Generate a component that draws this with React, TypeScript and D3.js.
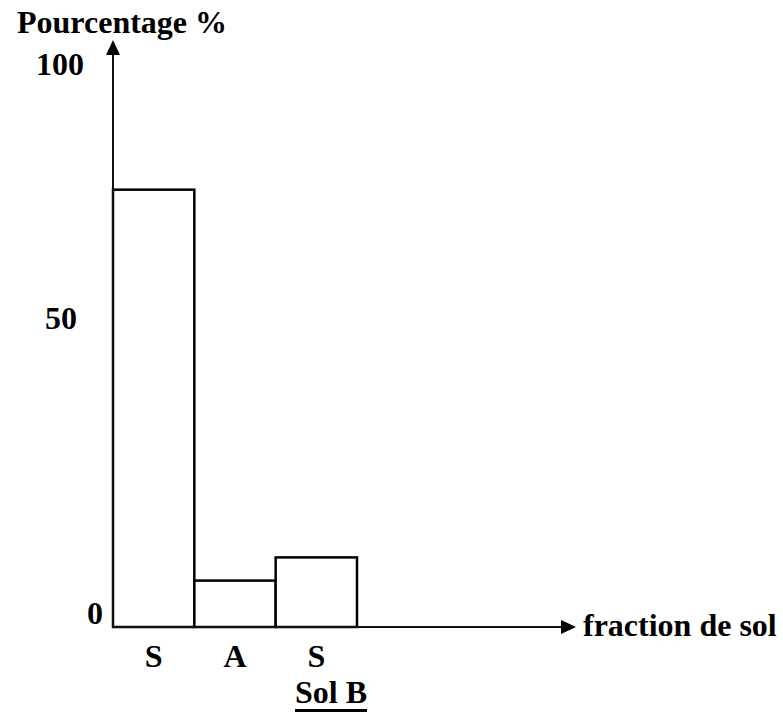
import React from "react";
import * as d3 from "d3";

const categories = ["S", "A", "S"];
const values = [75.4, 8, 12];
const tickValues = [0, 50, 100];
const yTitle = "Pourcentage %";
const xTitle = "fraction de sol";
const caption = "Sol B";

const W = 783;
const H = 716;
const FONT = "'Liberation Serif', 'Times New Roman', serif";

export default function App() {
  const y = d3.scaleLinear().domain([0, 100]).range([627, 47]);
  const x = d3
    .scaleBand<string>()
    .domain(categories.map((_, i) => String(i)))
    .range([113, 357])
    .padding(0);
  // tick label placement (hand-drawn original, irregular)
  const labelY = d3.scaleLinear().domain([0, 50, 100]).range([624, 329, 75]);
  const labelX = d3.scaleLinear().domain([0, 50, 100]).range([95, 61, 60]);

  const x0 = x.range()[0];
  const yBase = y(0);
  const yTop = 40;
  const xEnd = 576;
  const txt = { fontFamily: FONT, fontWeight: 700 as const };

  return (
    <svg
      width={W}
      height={H}
      style={{ position: "absolute", left: 0, top: 0, background: "#fff" }}
    >
      {/* bars */}
      {values.map((v, i) => (
        <rect
          key={i}
          x={x(String(i))}
          y={y(v)}
          width={x.bandwidth()}
          height={yBase - y(v)}
          fill="#fff"
          stroke="#000"
          strokeWidth={2.5}
        />
      ))}
      {/* y axis */}
      <line x1={x0} y1={yBase} x2={x0} y2={yTop + 12} stroke="#111" strokeWidth={2} />
      <path d={`M${x0},${yTop} L${x0 - 7},${yTop + 15} L${x0 + 7},${yTop + 15} Z`} fill="#000" />
      {/* x axis */}
      <line x1={x0} y1={yBase} x2={xEnd - 12} y2={yBase} stroke="#111" strokeWidth={2} />
      <path d={`M${xEnd},${yBase} L${xEnd - 15},${yBase - 7} L${xEnd - 15},${yBase + 7} Z`} fill="#000" />

      {/* tick labels */}
      {tickValues.map((t) => (
        <text key={t} x={labelX(t)} y={labelY(t)} fontSize={32} textAnchor="middle" style={txt}>
          {t}
        </text>
      ))}

      {/* category labels */}
      {categories.map((c, i) => (
        <text
          key={i}
          x={(x(String(i)) as number) + x.bandwidth() / 2}
          y={667}
          fontSize={32}
          textAnchor="middle"
          style={txt}
        >
          {c}
        </text>
      ))}

      {/* titles */}
      <text x={17} y={33} fontSize={32} style={txt}>
        {yTitle}
      </text>
      <text x={583} y={636} fontSize={32} style={txt}>
        {xTitle}
      </text>
      <text x={331} y={703} fontSize={32} textAnchor="middle" style={txt}>
        {caption}
      </text>
      <line x1={295} y1={710.5} x2={367} y2={710.5} stroke="#000" strokeWidth={3} />
    </svg>
  );
}
